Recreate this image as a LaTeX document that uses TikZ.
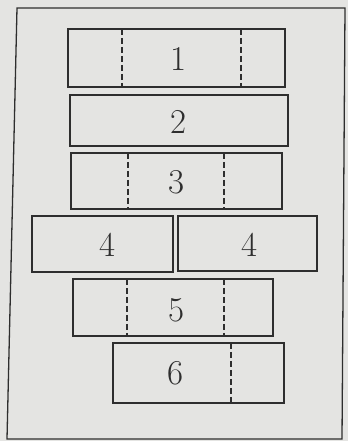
\documentclass[tikz,border=0pt]{standalone}
\usetikzlibrary{calc}
\definecolor{paper}{HTML}{E4E4E2}
\definecolor{ink}{HTML}{2E2E2E}
\tikzset{
  blk/.style={draw=ink, line width=1.1pt, fill=none},
  sep/.style={draw=ink, line width=1.1pt, dash pattern=on 6pt off 3pt},
  frame/.style={draw=ink, line width=1.3pt},
  num/.style={text=ink, font=\fontsize{35}{35}\selectfont, inner sep=0pt}
}
\begin{document}
\begin{tikzpicture}[x=1bp,y=-1bp]
\fill[paper] (0,0) rectangle (348,441);
\useasboundingbox (0,0) rectangle (348,441);
% outer frame
\coordinate (ftl) at (17,8);
\coordinate (ftr) at (345,8);
\coordinate (fbr) at (342,439);
\coordinate (fbl) at (7,439);
\draw[frame] (ftl) -- (ftr) -- (fbr) -- (fbl) -- cycle;
% box 1
\draw[blk] (68,29) rectangle (285,87);
\draw[sep] (122,29) -- (122,87);
\draw[sep] (241,29) -- (241,87);
\node[num] (n1) at (178,59) {1};
% box 2
\draw[blk] (70,95) rectangle (288,146);
\node[num] (n2) at (178,122) {2};
% box 3
\draw[blk] (71,153) rectangle (282,209);
\draw[sep] (128,153) -- (128,209);
\draw[sep] (224,153) -- (224,209);
\node[num] (n3) at (176,182) {3};
% box 4 left and right
\draw[blk] (32,216) rectangle (173,272);
\node[num] (n4a) at (107,245) {4};
\draw[blk] (178,216) rectangle (317,271);
\node[num] (n4b) at (249,245) {4};
% box 5
\draw[blk] (73,279) rectangle (273,336);
\draw[sep] (127,279) -- (127,336);
\draw[sep] (224,279) -- (224,336);
\node[num] (n5) at (176,310) {5};
% box 6
\draw[blk] (113,343) rectangle (284,403);
\draw[sep] (231,343) -- (231,403);
\node[num] (n6) at (175,373) {6};
\end{tikzpicture}
\end{document}
